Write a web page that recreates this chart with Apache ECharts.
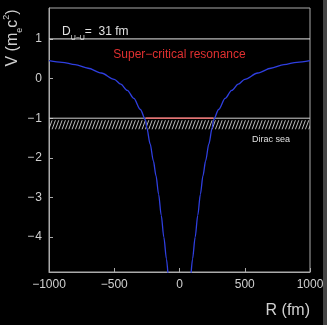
<!DOCTYPE html>
<html style="height: 100%">
<head>
    <meta charset="utf-8">
    <title>Super-critical resonance</title>
    <script src="https://cdn.jsdelivr.net/npm/echarts@6/dist/echarts.min.js"></script>
</head>
<body style="height: 100%; margin: 0; background: #000">
<div id="main" style="width: 327px; height: 325px"></div>

<script type="text/javascript">

    // potential, left branch (R < 0) and right branch (R > 0)
    var leftR  = [-1000, -900, -800, -700, -600, -500, -450, -400, -350, -300, -260, -250, -225, -200, -180, -160, -140, -120, -100, -88];
    var leftV  = [0.45, 0.41, 0.35, 0.26, 0.14, -0.02, -0.14, -0.30, -0.50, -0.78, -1.05, -1.25, -1.65, -2.08, -2.45, -2.92, -3.45, -4.00, -4.55, -4.95];
    var rightR = [88, 100, 120, 140, 160, 180, 200, 225, 250, 260, 300, 350, 400, 450, 500, 600, 700, 800, 900, 1000];
    var rightV = [-4.95, -4.55, -4.00, -3.45, -2.92, -2.45, -2.08, -1.65, -1.25, -1.05, -0.78, -0.50, -0.30, -0.14, -0.02, 0.14, 0.26, 0.35, 0.41, 0.45];

    var continuumLevels = [1, -1];      // +mc2 and -mc2
    var resonanceRange = [-259, 259];    // red segment on -mc2
    var diracSeaBottom = -1.28;
    var yTicks = [-4, -3, -2, -1, 0, 1];

    function pairs(xs, ys) {
        var out = [];
        for (var i = 0; i < xs.length; i++) {
            out.push([xs[i], ys[i]]);
        }
        return out;
    }

    // hatch pattern for the Dirac sea
    var hatch = document.createElement('canvas');
    hatch.width = 10;
    hatch.height = 9;
    var ctx = hatch.getContext('2d');
    ctx.strokeStyle = '#cfcfcf';
    ctx.lineWidth = 0.9;
    [-10, -6.67, -3.33, 0, 3.33, 6.67, 10].forEach(function (x0) {
        ctx.beginPath();
        ctx.moveTo(x0, 9);
        ctx.lineTo(x0 + 3.3, 0);
        ctx.stroke();
    });

    var fontFam = '"Liberation Sans", Arial, sans-serif';
    var myChart = echarts.init(document.getElementById('main'));

    var option = {
        backgroundColor: '#000',
        animation: false,
        grid: {
            left: 49, right: 17, top: 8, bottom: 53,
            show: true, borderColor: '#aaaaaa', borderWidth: 1
        },
        xAxis: {
            type: 'value',
            min: -1000, max: 1000, interval: 500,
            axisLine: {onZero: false, lineStyle: {color: '#aaaaaa'}},
            axisTick: {inside: true, length: 4, lineStyle: {color: '#aaaaaa'}},
            splitLine: {show: false},
            axisLabel: {
                color: '#d0d0d0', fontSize: 12, fontFamily: fontFam, margin: 7,
                formatter: function (v) { return String(v).replace('-', '\u2212'); }
            }
        },
        yAxis: {
            type: 'value',
            min: -4.88, max: 1.78,
            axisLine: {onZero: false, lineStyle: {color: '#aaaaaa'}},
            axisTick: {inside: true, length: 4, customValues: yTicks, lineStyle: {color: '#aaaaaa'}},
            splitLine: {show: false},
            axisLabel: {
                color: '#d0d0d0', fontSize: 12, fontFamily: fontFam, margin: 7,
                customValues: yTicks,
                formatter: function (v) { return String(v).replace('-', '\u2212\u200a'); }
            }
        },
        series: [
            {
                // Dirac sea band
                type: 'custom',
                silent: true,
                data: [[-1000, continuumLevels[1], 1000, diracSeaBottom]],
                renderItem: function (params, api) {
                    var p0 = api.coord([api.value(0), api.value(1)]);
                    var p1 = api.coord([api.value(2), api.value(3)]);
                    return {
                        type: 'rect',
                        shape: {x: p0[0], y: p0[1] + 2, width: p1[0] - p0[0], height: p1[1] - p0[1] - 2},
                        style: {fill: {image: hatch, repeat: 'repeat'}}
                    };
                }
            },
            {
                type: 'line', symbol: 'none', silent: true,
                data: [[-1000, continuumLevels[0]], [1000, continuumLevels[0]]],
                lineStyle: {color: '#e8e8e8', width: 1}
            },
            {
                type: 'line', symbol: 'none', silent: true,
                data: [[-1000, continuumLevels[1]], [1000, continuumLevels[1]]],
                lineStyle: {color: '#d0d0d0', width: 1}
            },
            {
                type: 'line', symbol: 'none', silent: true,
                data: [[resonanceRange[0], continuumLevels[1]], [resonanceRange[1], continuumLevels[1]]],
                lineStyle: {color: '#ff6a6a', width: 1.2}
            },
            {
                type: 'line', symbol: 'none', smooth: 0.3, smoothMonotone: 'x',
                data: pairs(leftR, leftV),
                lineStyle: {color: '#2f3fe0', width: 1.3}
            },
            {
                type: 'line', symbol: 'none', smooth: 0.3, smoothMonotone: 'x',
                data: pairs(rightR, rightV),
                lineStyle: {color: '#2f3fe0', width: 1.3}
            }
        ],
        graphic: [
            {
                type: 'rect', right: 0, top: 0,
                shape: {width: 4, height: 325},
                style: {fill: '#444444'}
            },
            {
                type: 'text', x: 62, y: 26,
                style: {
                    text: '{a|D}{s|U\u2212U}{a|=  31 fm}',
                    fill: '#e0e0e0',
                    rich: {
                        a: {fontSize: 12, fontFamily: fontFam, fill: '#e0e0e0', verticalAlign: 'top', lineHeight: 16},
                        s: {fontSize: 7, fontFamily: fontFam, fill: '#e0e0e0', verticalAlign: 'bottom', lineHeight: 16}
                    }
                }
            },
            {
                type: 'text', x: 179.5, y: 55,
                style: {
                    text: 'Super\u2212critical resonance',
                    fill: '#e03030', font: '12px ' + fontFam,
                    align: 'center', verticalAlign: 'middle'
                }
            },
            {
                type: 'text', x: 271, y: 139.5,
                style: {
                    text: 'Dirac sea',
                    fill: '#e0e0e0', font: '9px ' + fontFam,
                    align: 'center', verticalAlign: 'middle'
                }
            },
            {
                type: 'text', x: 310, y: 311,
                style: {
                    text: 'R (fm)',
                    fill: '#d0d0d0', font: '16px ' + fontFam,
                    align: 'right', verticalAlign: 'middle'
                }
            },
            {
                type: 'text', x: 13, y: 38, rotation: Math.PI / 2,
                style: {
                    text: '{a|V (m}{s|e}{a|c}{p|2}{a|)}',
                    fill: '#d0d0d0',
                    align: 'center', verticalAlign: 'middle',
                    rich: {
                        a: {fontSize: 16, fontFamily: fontFam, fill: '#d0d0d0', lineHeight: 22, verticalAlign: 'middle'},
                        s: {fontSize: 9, fontFamily: fontFam, fill: '#d0d0d0', lineHeight: 22, verticalAlign: 'bottom'},
                        p: {fontSize: 9, fontFamily: fontFam, fill: '#d0d0d0', lineHeight: 22, verticalAlign: 'top'}
                    }
                }
            }
        ]
    };
    myChart.setOption(option, true);

</script>
</body>
</html>
